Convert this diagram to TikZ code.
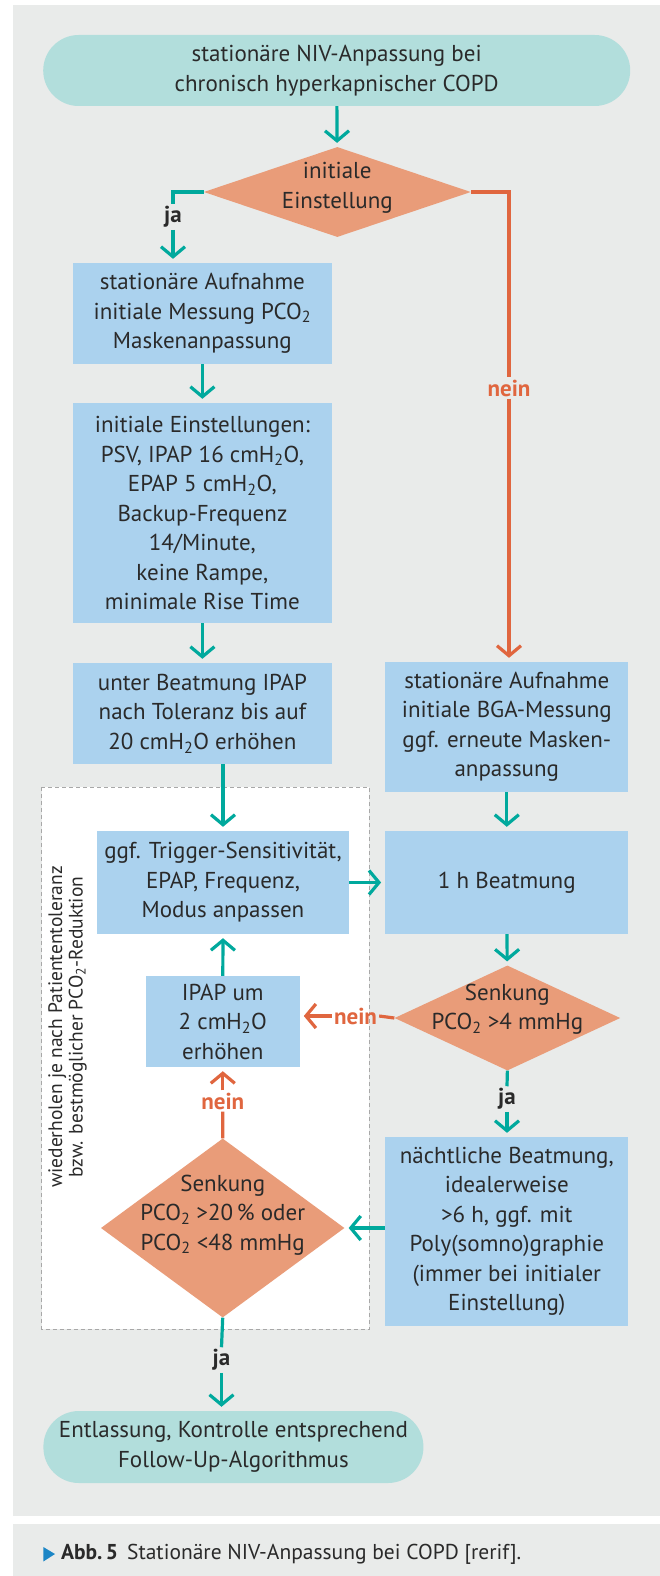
\documentclass[tikz,border=0pt]{standalone}
\usepackage{fontspec}
\setmainfont{PT Sans}
\newfontfamily\plainsans{PT Sans}
\usetikzlibrary{arrows.meta,shapes.geometric}
\definecolor{panel}{HTML}{E9EBEA}
\definecolor{pill}{HTML}{B2DEDC}
\definecolor{boxblue}{HTML}{ABD2EE}
\definecolor{dia}{HTML}{E99C79}
\definecolor{flowteal}{HTML}{00A99D}
\definecolor{flowred}{HTML}{E0663F}
\definecolor{ink}{HTML}{2A2A2A}
\definecolor{dashgray}{HTML}{A8A8A8}
\definecolor{capblue}{HTML}{1C86C6}
\newcommand\subtwo{\textsubscript{2}}
\begin{document}
\begin{tikzpicture}[x=1pt,y=-1pt,
  txt/.style={align=center,text=ink,font=\fontsize{23}{29.5}\selectfont},
  box/.style={txt,rectangle,fill=boxblue,inner sep=0pt},
  pillbox/.style={txt,rectangle,fill=pill,inner sep=0pt,rounded corners=35.5pt},
  decision/.style={diamond,fill=dia,inner sep=0pt},
  tealline/.style={draw=flowteal,line width=3.2pt},
  redline/.style={draw=flowred,line width=3.2pt},
  tealarr/.style={tealline,-{Straight Barb[length=10pt,width=24pt]},shorten >=4pt},
  redarr/.style={redline,-{Straight Barb[length=10pt,width=24pt]},shorten >=4pt},
  jalab/.style={font=\bfseries\fontsize{23}{26}\selectfont,text=ink,inner sep=2pt},
  neinlab/.style={font=\bfseries\fontsize{23}{26}\selectfont,text=flowred,inner sep=2pt}]
\useasboundingbox (0,0) rectangle (660,1576);
\fill[white] (0,0) rectangle (660,1576);
% panels
\fill[panel] (12.7,5) rectangle (660,1516);
\fill[panel] (12.7,1524) rectangle (660,1576);
% repeat loop frame
\draw[dashgray,fill=white,line width=1pt,dash pattern=on 4pt off 3pt] (41.6,787) rectangle (369.1,1329);

% nodes
\node[pillbox,minimum width=587pt,minimum height=71pt] (start) at (336.7,70.5)
  {stationäre NIV-Anpassung bei\\chronisch hyperkapnischer COPD};
\node[decision,minimum width=267pt,minimum height=90pt] (d1) at (337.3,192) {};
\node[txt] (d1t) at (337.3,188) {initiale\\Einstellung};

\node[box,minimum width=259.6pt,minimum height=101pt] (b2) at (202.4,313.5)
  {stationäre Aufnahme\\initiale Messung PCO\subtwo\\Maskenanpassung};
\node[box,minimum width=259.6pt,minimum height=220pt] (b3) at (202.4,513)
  {initiale Einstellungen:\\PSV, IPAP 16 cmH\subtwo O,\\EPAP 5 cmH\subtwo O,\\Backup-Frequenz\\14/Minute,\\keine Rampe,\\minimale Rise Time};
\node[box,minimum width=259.6pt,minimum height=101pt] (b4) at (202.4,713.5)
  {unter Beatmung IPAP\\nach Toleranz bis auf\\20 cmH\subtwo O erhöhen};
\node[box,minimum width=243pt,minimum height=130pt] (b5) at (506.8,727)
  {stationäre Aufnahme\\initiale BGA-Messung\\ggf. erneute Masken-\\anpassung};
\node[box,minimum width=251.6pt,minimum height=103pt] (b6) at (223,882.5)
  {ggf. Trigger-Sensitivität,\\EPAP, Frequenz,\\Modus anpassen};
\node[box,minimum width=243pt,minimum height=103pt] (b7) at (506.8,882.5)
  {1 h Beatmung};
\node[decision,minimum width=225.7pt,minimum height=105pt] (d2) at (507.4,1018) {};
\node[txt] (d2t) at (507.4,1009) {Senkung\\PCO\subtwo{} >4 mmHg};
\node[box,minimum width=153.6pt,minimum height=91pt] (b8) at (222.8,1021.5)
  {IPAP um\\2 cmH\subtwo O\\erhöhen};
\node[decision,minimum width=243.5pt,minimum height=179pt] (d3) at (222.7,1228) {};
\node[txt] (d3t) at (222.7,1215) {Senkung\\PCO\subtwo{} >20\,\% oder\\PCO\subtwo{} <48 mmHg};
\node[box,minimum width=243pt,minimum height=189pt] (b9) at (506.8,1231.5)
  {nächtliche Beatmung,\\idealerweise\\>6 h, ggf. mit\\Poly(somno)graphie\\(immer bei initialer\\Einstellung)};
\node[pillbox,minimum width=380pt,minimum height=72pt] (end) at (233.4,1447)
  {Entlassung, Kontrolle entsprechend\\Follow-Up-Algorithmus};

\node[rotate=90,align=center,text=ink,font=\plainsans\fontsize{19.5}{20.5}\selectfont] (loop) at (67.5,1027)
  {wiederholen je nach Patiententoleranz\\bzw. bestmöglicher PCO\subtwo-Reduktion};

% branch labels
\node[jalab] (ja1) at (173,217) {ja};
\node[neinlab] (nein1) at (509,388) {nein};
\node[neinlab] (nein2) at (355.5,1016) {nein};
\node[jalab] (ja2) at (507,1099) {ja};
\node[neinlab] (nein3) at (222.8,1101) {nein};
\node[jalab] (ja3) at (221.5,1360) {ja};

% connectors
\draw[tealarr] (start) -- (d1);
\draw[tealline] (d1.west) -| (ja1.north);
\draw[tealarr] (ja1.south) -- (ja1.south |- b2.north);
\draw[redline] (d1.east) -| (nein1.north);
\draw[redarr] (nein1.south) -- (nein1.south |- b5.north);
\draw[tealarr] (b2) -- (b3);
\draw[tealarr] (b3) -- (b4);
\draw[tealarr] (b4.south -| b6.north) -- (b6.north);
\draw[tealarr] (b5) -- (b7);
\draw[tealarr] (b6) -- (b7);
\draw[tealarr] (b7) -- (d2);
\draw[redline] (d2.west) -- (nein2.east);
\draw[redarr] (nein2.west) -- (nein2.west -| b8.east);
\draw[tealline] (d2.south) -- (ja2.north);
\draw[tealarr] (ja2.south) -- (ja2.south |- b9.north);
\draw[tealarr] (b9.west |- d3.east) -- (d3.east);
\draw[redline] (d3.north) -- (nein3.south);
\draw[redarr] (nein3.north) -- (nein3.north |- b8.south);
\draw[tealarr] (b8.north) -- (b6.south);
\draw[tealline] (d3.south) -- (ja3.north);
\draw[tealarr] (ja3.south) -- (ja3.south |- end.north);

% caption
\fill[capblue] (43.3,1547) -- (55,1554) -- (43.3,1561.5) -- cycle;
\node[anchor=west,text=ink,font=\plainsans\fontsize{21.5}{24}\selectfont,inner sep=0pt] (cap) at (61,1554)
  {\textbf{Abb.\,5}\hspace{9pt}Stationäre NIV-Anpassung bei COPD [rerif].};
\end{tikzpicture}
\end{document}
